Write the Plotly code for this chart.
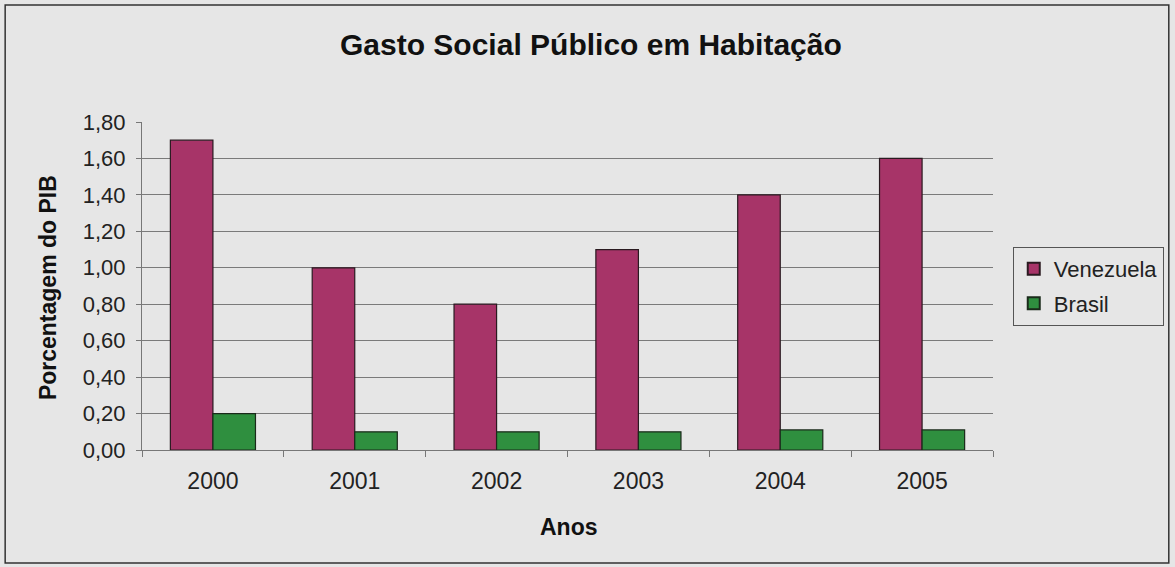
import plotly.graph_objects as go

anos = ["2000", "2001", "2002", "2003", "2004", "2005"]
venezuela = [1.70, 1.00, 0.80, 1.10, 1.40, 1.60]
brasil = [0.20, 0.10, 0.10, 0.10, 0.11, 0.11]
y_ticks = [0.0, 0.2, 0.4, 0.6, 0.8, 1.0, 1.2, 1.4, 1.6, 1.8]

FONT = "Arial, Liberation Sans, sans-serif"
BG = "#e6e6e6"

fig = go.Figure()
fig.add_trace(go.Bar(
    name="Venezuela", x=anos, y=venezuela, legendgroup="ve",
    marker=dict(color="#a73468", line=dict(color="#2a1a20", width=1.2)),
))
fig.add_trace(go.Bar(
    name="Brasil", x=anos, y=brasil, legendgroup="br",
    marker=dict(color="#2f8f3f", line=dict(color="#1a2a1a", width=1.2)),
))

fig.update_layout(
    width=1175, height=567,
    margin=dict(l=142, r=181, t=122, b=117),
    paper_bgcolor=BG, plot_bgcolor=BG,
    separators=",.",
    barmode="group", bargap=0.40, bargroupgap=0,
    font=dict(family=FONT, size=22, color="#222222"),
    showlegend=True,
    legend=dict(
        x=1.022, y=0.619, xanchor="left", yanchor="top",
        bgcolor="rgba(0,0,0,0)", bordercolor="#555555", borderwidth=1,
        font=dict(family=FONT, size=22, color="#222222"),
        itemsizing="constant", tracegroupgap=3, itemwidth=30,
    ),
    xaxis=dict(
        type="category", showgrid=False, showline=True,
        linecolor="#777777", linewidth=1,
        ticks="outside", tickson="boundaries", ticklen=6, tickcolor="#777777",
        tickfont=dict(size=23), zeroline=False, ticklabelstandoff=10,
    ),
    yaxis=dict(
        range=[0, 1.8], tickvals=y_ticks, tickformat=".2f",
        showgrid=True, gridcolor="#7a7a7a", gridwidth=1,
        showline=True, linecolor="#777777", linewidth=1,
        ticks="outside", ticklen=5, tickcolor="#777777",
        tickfont=dict(size=22), zeroline=False, ticklabelstandoff=6,
    ),
)

# Chart title and axis titles
fig.add_annotation(
    text="<b>Gasto Social Público em Habitação</b>",
    xref="paper", yref="paper", x=(592 - 142) / 852, y=(450 - 45) / 328,
    showarrow=False, font=dict(family=FONT, size=30, color="#111111"),
    xanchor="center", yanchor="middle",
)
fig.add_annotation(
    text="<b>Anos</b>",
    xref="paper", yref="paper", x=(570 - 142) / 852, y=(450 - 527) / 328,
    showarrow=False, font=dict(family=FONT, size=23, color="#111111"),
    xanchor="center", yanchor="middle",
)
fig.add_annotation(
    text="<b>Porcentagem do PIB</b>",
    xref="paper", yref="paper", x=(48 - 142) / 852, y=(450 - 288) / 328,
    showarrow=False, textangle=-90, font=dict(family=FONT, size=23, color="#111111"),
    xanchor="center", yanchor="middle",
)

# Outer frame around the chart
fig.add_shape(
    type="rect", xref="paper", yref="paper",
    x0=(5 - 142) / 852, x1=(1170 - 142) / 852,
    y0=(450 - 563) / 328, y1=(450 - 5) / 328,
    line=dict(color="#333333", width=1.5), fillcolor="rgba(0,0,0,0)", layer="below",
)

fig.write_html("out.html")
